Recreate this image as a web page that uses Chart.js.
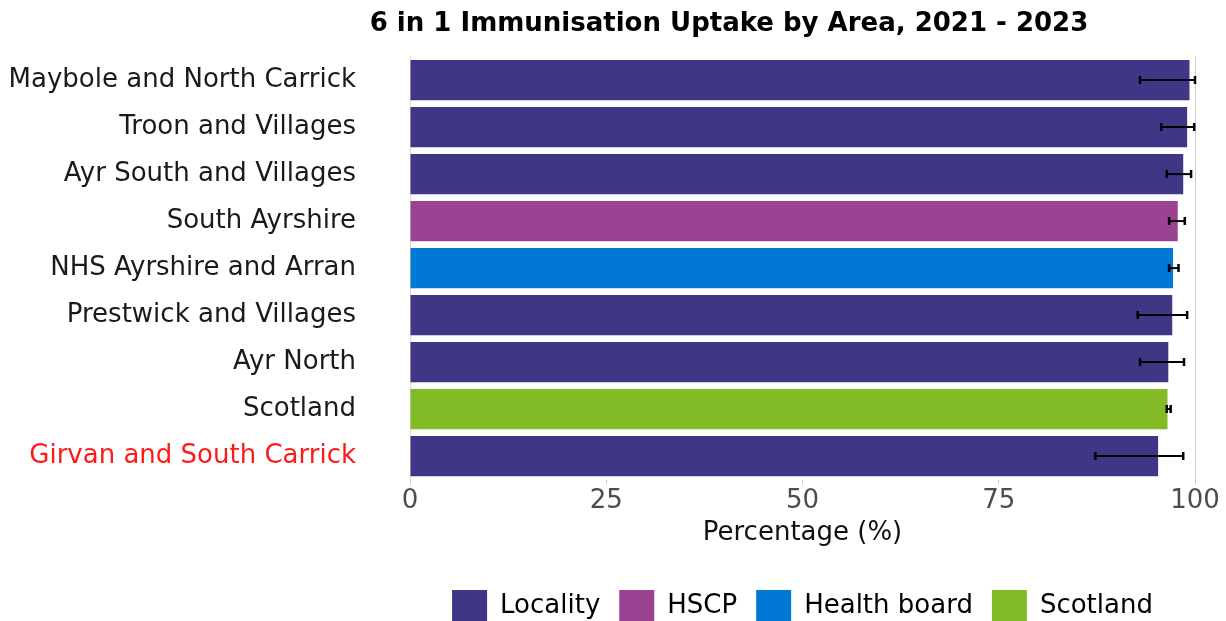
<!DOCTYPE html>
<html>
<head>
<meta charset="utf-8">
<script src="https://cdn.jsdelivr.net/npm/chart.js@4"></script>
<style>
  html, body { margin: 0; padding: 0; background: #fff; }
  #wrap { width: 1226px; height: 621px; }
</style>
</head>
<body>
<div id="wrap"><canvas id="uptakeChart" width="1226" height="621"></canvas></div>
<script>
var areas = ['Maybole and North Carrick', 'Troon and Villages', 'Ayr South and Villages',
  'South Ayrshire', 'NHS Ayrshire and Arran', 'Prestwick and Villages', 'Ayr North',
  'Scotland', 'Girvan and South Carrick'];
var areaTypes = ['Locality', 'Locality', 'Locality', 'HSCP', 'Health board',
  'Locality', 'Locality', 'Scotland', 'Locality'];
var uptake = [99.3, 99.0, 98.5, 97.8, 97.2, 97.1, 96.6, 96.5, 95.3];
var lowerCI = [93.0, 95.7, 96.4, 96.7, 96.7, 92.7, 93.0, 96.4, 87.3];
var upperCI = [100.0, 99.9, 99.5, 98.7, 97.9, 99.0, 98.6, 96.9, 98.5];
var xTicks = [0, 25, 50, 75, 100];

var typeNames = ['Locality', 'HSCP', 'Health board', 'Scotland'];
var typeColours = {
  'Locality': '#3F3685',
  'HSCP': '#9B4393',
  'Health board': '#0078D4',
  'Scotland': '#83BB26'
};
var highlightArea = 'Girvan and South Carrick';

var FONT = "'DejaVu Sans', sans-serif";
var SIZE = 26;

// confidence interval whiskers, drawn through the chart's scales
var errorBars = {
  id: 'errorBars',
  afterDatasetsDraw: function (chart) {
    var ctx = chart.ctx, x = chart.scales.x, y = chart.scales.y;
    ctx.save();
    ctx.strokeStyle = '#000';
    for (var i = 0; i < areas.length; i++) {
      var yc = y.getPixelForValue(i);
      var x0 = x.getPixelForValue(lowerCI[i]);
      var x1 = x.getPixelForValue(upperCI[i]);
      ctx.lineWidth = 2;
      ctx.beginPath();
      ctx.moveTo(x0, yc); ctx.lineTo(x1, yc);
      ctx.stroke();
      ctx.lineWidth = 2.5;
      ctx.beginPath();
      ctx.moveTo(x0, yc - 4); ctx.lineTo(x0, yc + 4);
      ctx.moveTo(x1, yc - 4); ctx.lineTo(x1, yc + 4);
      ctx.stroke();
    }
    ctx.restore();
  }
};

var topTitle = {
  id: 'topTitle',
  afterDraw: function (chart) {
    var ctx = chart.ctx;
    ctx.save();
    ctx.font = 'bold ' + SIZE + 'px ' + FONT;
    ctx.fillStyle = '#000';
    ctx.textAlign = 'center';
    ctx.textBaseline = 'middle';
    ctx.fillText('6 in 1 Immunisation Uptake by Area, 2021 - 2023', 729, 24);
    ctx.restore();
  }
};

new Chart(document.getElementById('uptakeChart'), {
  type: 'bar',
  data: {
    labels: areas,
    datasets: [{
      data: uptake,
      backgroundColor: areaTypes.map(function (t) { return typeColours[t]; }),
      barPercentage: 0.86,
      categoryPercentage: 1.0
    }]
  },
  options: {
    indexAxis: 'y',
    responsive: false,
    animation: false,
    layout: { padding: { top: 52, left: 8, right: 31, bottom: -11 } },
    plugins: {
      title: { display: false },
      tooltip: { enabled: false },
      legend: {
        position: 'bottom',
        fullSize: false,
        labels: {
          font: { family: FONT, size: SIZE },
          color: '#222',
          boxWidth: 35,
          boxHeight: 32,
          padding: 19,
          generateLabels: function () {
            return typeNames.map(function (t) {
              return { text: t, fillStyle: typeColours[t], strokeStyle: typeColours[t], lineWidth: 0, hidden: false };
            });
          }
        }
      }
    },
    scales: {
      x: {
        min: 0,
        max: 100,
        afterBuildTicks: function (scale) {
          scale.ticks = xTicks.map(function (v) { return { value: v }; });
        },
        border: { display: false },
        grid: {
          color: function (c) { return c.tick && c.tick.value === 100 ? '#cccccc' : 'rgba(0,0,0,0)'; },
          tickColor: '#cccccc',
          tickLength: 5
        },
        ticks: { font: { family: FONT, size: SIZE }, color: '#4d4d4d', padding: 1, maxRotation: 0 },
        title: {
          display: true,
          text: 'Percentage (%)',
          font: { family: FONT, size: SIZE },
          color: '#111',
          padding: { top: 0, bottom: 22 }
        }
      },
      y: {
        border: { display: true, color: '#dddddd' },
        grid: { display: false, tickLength: 13 },
        ticks: {
          font: { family: FONT, size: SIZE },
          color: function (c) { return areas[c.index] === highlightArea ? '#ff1a1a' : '#1a1a1a'; },
          padding: 41
        },
        afterFit: function (scale) { scale.width = 402; }
      }
    }
  },
  plugins: [errorBars, topTitle]
});
</script>
</body>
</html>
